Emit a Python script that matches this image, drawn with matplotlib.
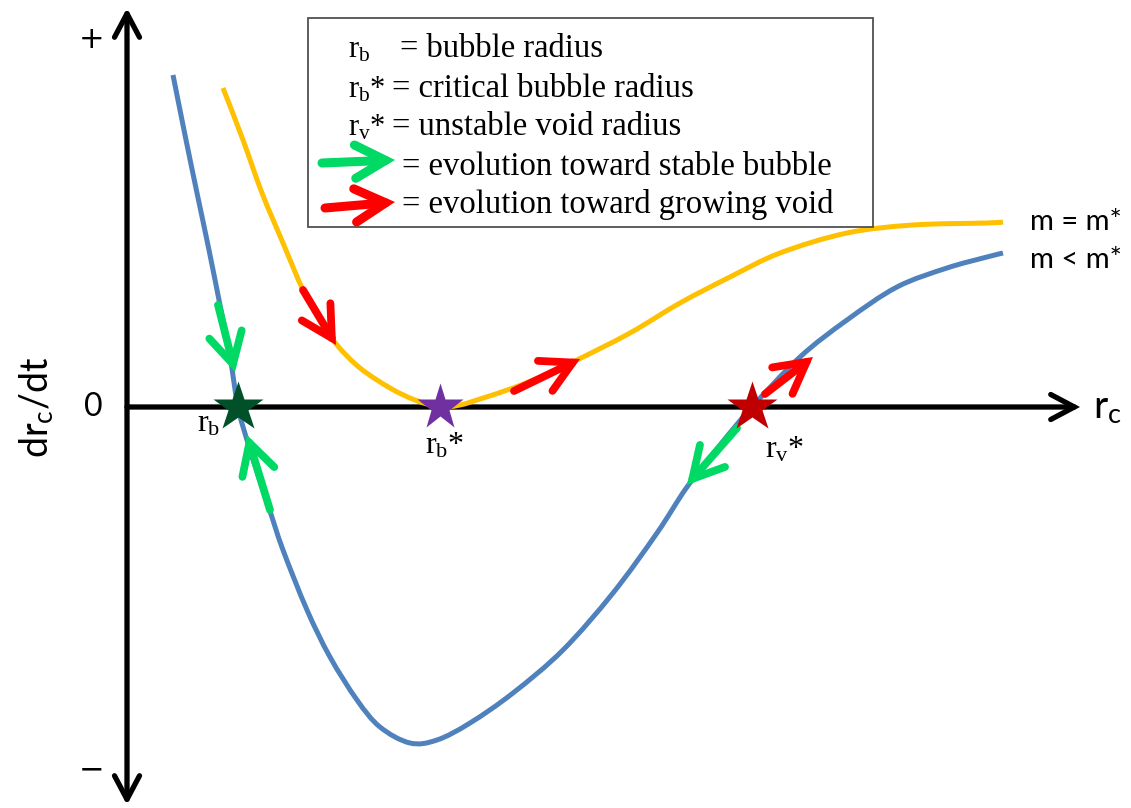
import matplotlib
matplotlib.use("Agg")
import numpy as np
import matplotlib.pyplot as plt
from matplotlib.patches import Rectangle, PathPatch
from matplotlib.path import Path

plt.rcParams['mathtext.fontset'] = 'custom'
plt.rcParams['mathtext.rm'] = 'Liberation Serif'
plt.rcParams['mathtext.it'] = 'Liberation Serif:italic'
plt.rcParams['mathtext.sf'] = 'Lato'

# ---- data (chart units: x = r_c, y = dr_c/dt) ----
blue_x = [46, 58, 70, 82, 93, 102, 111, 120, 131, 142, 156, 180, 203, 230, 253, 283,
          310, 343, 386, 436, 486, 530, 560, 593, 625, 673, 720, 770, 820, 860, 876]
blue_y = [332, 272, 214, 157, 102, 57, 0, -33, -68, -101, -143, -203, -250, -293, -320, -336,
          -333, -316, -286, -243, -186, -126, -80, -38, 0, 50, 87, 120, 139, 150, 154]

yellow_x = [96, 116, 135, 156, 176, 193, 210, 233, 263, 288, 313, 333, 353, 386, 418, 450,
            503, 553, 603, 653, 720, 786, 860, 876]
yellow_y = [319, 267, 214, 164, 117, 87, 62, 39, 19, 7, 0, 2, 8, 19, 32, 47,
            74, 104, 130, 154, 174, 182, 184, 185]

# fixed points
stars_x = [111, 313, 625]
stars_y = [0, 0, 0]
star_colors = ['#00502A', '#7030A0', '#C00000']
star_sizes = [38, 35, 38]
star_labels = [r'r$_{\mathrm{b}}$', r'r$_{\mathrm{b}}$*', r'r$_{\mathrm{v}}$*']

# evolution arrows (tail, tip)
green_arrows = [((91, 102), (108, 35)), ((143, -103), (120, -28)), ((610, -21), (560, -78))]
red_arrows = [((176, 117), (209, 62)), ((387, 16), (453, 48)), ((638, 13), (686, 50))]

legend_keys = [r'r$_{\mathrm{b}}$', r'r$_{\mathrm{b}}$*', r'r$_{\mathrm{v}}$*', '', '']
legend_texts = ['= bubble radius', '= critical bubble radius', '= unstable void radius',
                '= evolution toward stable bubble', '= evolution toward growing void']

curve_labels = ['m = m*', 'm < m*']

BLUE = '#4F81BD'
YELLOW = '#FFC000'
GREEN = '#00D964'
RED = '#FF0000'

fig = plt.figure(figsize=(11.31, 8.08), dpi=100)
ax = fig.add_axes([0, 0, 1, 1])
ax.set_xlim(-127, 1004)
ax.set_ylim(-401, 407)
ax.axis('off')


def smooth_path(xs, ys):
    pts = np.column_stack([xs, ys]).astype(float)
    n = len(pts)
    verts = [pts[0]]
    codes = [Path.MOVETO]
    for i in range(n - 1):
        p0 = pts[i - 1] if i > 0 else pts[i]
        p1 = pts[i]
        p2 = pts[i + 1]
        p3 = pts[i + 2] if i + 2 < n else pts[i + 1]
        verts += [p1 + (p2 - p0) / 6.0, p2 - (p3 - p1) / 6.0, p2]
        codes += [Path.CURVE4] * 3
    return Path(verts, codes)


def arrow(tail, tip, color, lw=5.6, hl=1.1, hw=0.6, z=5):
    ax.annotate('', xy=tip, xytext=tail,
                arrowprops=dict(arrowstyle=f'->,head_length={hl},head_width={hw}',
                                color=color, lw=lw, shrinkA=0, shrinkB=0,
                                mutation_scale=20, capstyle='round', joinstyle='miter'),
                zorder=z)


# axes
arrow((0, 0), (953, 0), 'black', lw=3.8, hl=0.85, hw=0.45, z=3)
ax.annotate('', xy=(0, 399), xytext=(0, -398),
            arrowprops=dict(arrowstyle='<->,head_length=0.85,head_width=0.45',
                            color='black', lw=3.8, shrinkA=0, shrinkB=0,
                            mutation_scale=20, capstyle='round'), zorder=3)

# curves
ax.add_patch(PathPatch(smooth_path(yellow_x, yellow_y), fill=False, ec=YELLOW,
                       lw=3.6, capstyle='butt', zorder=4))
ax.add_patch(PathPatch(smooth_path(blue_x, blue_y), fill=False, ec=BLUE,
                       lw=3.6, capstyle='butt', zorder=4))

for tail, tip in green_arrows:
    arrow(tail, tip, GREEN)
for tail, tip in red_arrows:
    arrow(tail, tip, RED)

for x, y, c, s in zip(stars_x, stars_y, star_colors, star_sizes):
    ax.plot([x], [y], marker='*', ms=s, color=c, mec='none', zorder=6)

serif = 'Liberation Serif'
label_pos = [(70, -25), (298, -47), (638, -51)]
for (lx, ly), s in zip(label_pos, star_labels):
    ax.text(lx, ly, s, fontsize=23, family=serif, ha='left', va='baseline')

sans = 'Lato'
ax.text(-34, 0, '0', fontsize=23, family=sans, ha='center', va='center')
ax.text(-35, 367, '+', fontsize=22, family='DejaVu Sans', ha='center', va='center')
ax.text(-35, -363, '\u2212', fontsize=22, family='DejaVu Sans', ha='center', va='center')
ax.text(-90, 0, r'dr$_{\mathsf{c}}$/dt', fontsize=27, family=sans, rotation=90,
        ha='center', va='center')
ax.text(966, -11, r'r$_{\mathsf{c}}$', fontsize=28, family=sans, ha='left', va='baseline')
ax.text(903, 177, curve_labels[0], fontsize=21, family=sans, ha='left', va='baseline')
ax.text(903, 139, curve_labels[1], fontsize=21, family=sans, ha='left', va='baseline')

# legend box
ax.add_patch(Rectangle((181, 180), 565, 209, fill=False, ec='#505050', lw=1.3, zorder=7))
leg_base = [350, 310, 272, 232, 194]
eq_x = [273, 265, 265, 275, 275]
for key, txt, y, ex in zip(legend_keys, legend_texts, leg_base, eq_x):
    if key:
        ax.text(221, y, key, fontsize=22, family=serif, ha='left', va='baseline', zorder=8)
    ax.text(ex, y, txt, fontsize=23.5, family=serif, ha='left', va='baseline', zorder=8)
arrow((195, 244), (268, 247), GREEN, lw=6.5, z=8)
arrow((198, 199), (268, 205), RED, lw=6.5, z=8)

fig.savefig('out.png', dpi=100)
